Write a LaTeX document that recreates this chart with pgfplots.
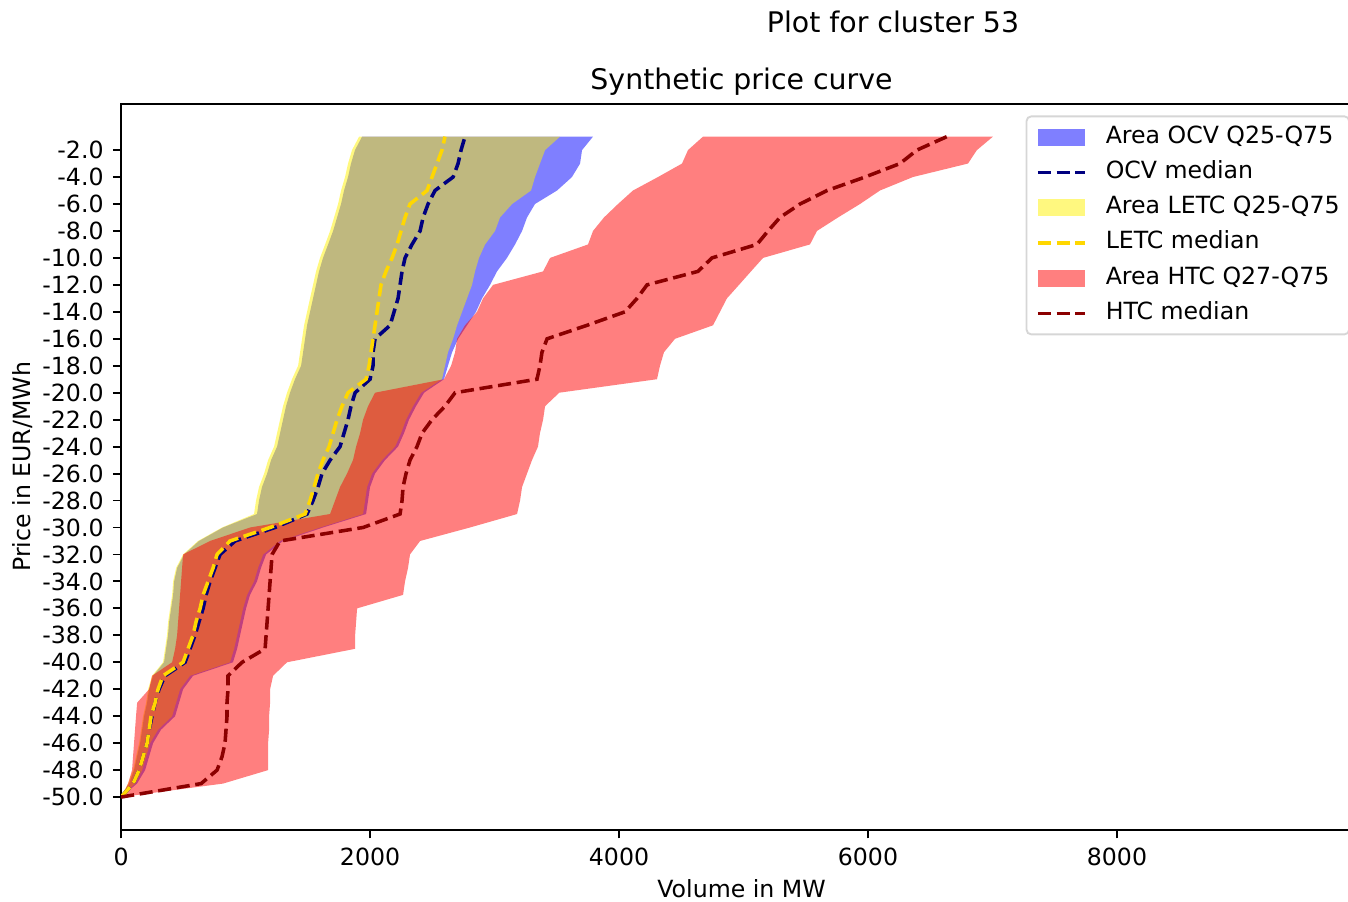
\documentclass[border=0pt]{standalone}
\usepackage{fontspec}
\setmainfont{DejaVu Sans}
\usepackage{pgfplots}
\pgfplotsset{compat=1.18}
\usepackage{pgfplotstable}
\usepgfplotslibrary{fillbetween}
\definecolor{navyc}{HTML}{000080}
\definecolor{goldc}{HTML}{FFD700}
\definecolor{darkredc}{HTML}{8B0000}

\pgfplotstableread{
y lo hi med
-50 0 0 0
-49 64 128 96
-48 104 193 145
-47 128 225 177
-46 153 257 209
-45 169 321 225
-44 185 434 249
-43 209 466 273
-42 225 498 305
-41 257 578 353
-40 345 899 514
-39 361 932 554
-38 377 956 594
-37 386 980 626
-36 402 1004 659
-35 418 1036 683
-34 426 1092 715
-33 450 1124 755
-32 506 1165 795
-31 626 1301 916
-30 819 1622 1237
-29 1092 1968 1494
-28 1108 1984 1542
-27 1132 2000 1582
-26 1173 2040 1614
-25 1205 2120 1679
-24 1253 2225 1759
-23 1277 2273 1791
-22 1301 2313 1823
-21 1325 2369 1847
-20 1357 2434 1880
-19 1397 2594 2000
-18 1446 2626 2024
-17 1462 2659 2024
-16 1478 2707 2040
-15 1494 2779 2161
-14 1518 2851 2193
-13 1542 2900 2225
-12 1566 2964 2241
-11 1590 3020 2257
-10 1622 3100 2281
-9 1663 3165 2337
-8 1703 3221 2402
-7 1735 3261 2426
-6 1767 3325 2466
-5 1791 3502 2522
-4 1823 3622 2667
-3 1847 3687 2707
-2 1879 3703 2731
-1 1936 3791 2763
}\ocv

\pgfplotstableread{
y lo hi med
-50 0 0 0
-49 56 112 96
-48 96 169 145
-47 120 201 177
-46 145 233 209
-45 161 297 225
-44 177 410 241
-43 201 442 273
-42 217 474 297
-41 249 554 337
-40 337 875 498
-39 353 908 538
-38 369 932 578
-37 378 956 602
-36 394 980 635
-35 410 1012 659
-34 418 1068 699
-33 442 1100 739
-32 498 1141 771
-31 618 1277 875
-30 811 1598 1197
-29 1068 1944 1478
-28 1084 1960 1518
-27 1108 1976 1550
-26 1149 2016 1582
-25 1181 2096 1622
-24 1229 2201 1671
-23 1253 2249 1703
-22 1277 2289 1735
-21 1301 2345 1775
-20 1333 2410 1823
-19 1373 2578 1968
-18 1422 2602 1992
-17 1438 2626 2008
-16 1454 2667 2024
-15 1470 2699 2040
-14 1494 2739 2056
-13 1518 2779 2072
-12 1542 2819 2088
-11 1566 2843 2128
-10 1598 2875 2177
-9 1639 2924 2217
-8 1679 3004 2249
-7 1711 3044 2281
-6 1743 3141 2321
-5 1767 3293 2458
-4 1799 3325 2498
-3 1823 3365 2538
-2 1855 3406 2578
-1 1912 3526 2602
}\letc

\pgfplotstableread{
y lo hi med
-50 0 0 0
-49 56 819 643
-48 88 1181 771
-47 96 1181 811
-46 104 1181 835
-45 112 1189 843
-44 120 1189 851
-43 129 1197 851
-42 225 1197 859
-41 249 1221 859
-40 410 1333 972
-39 434 1880 1157
-38 450 1880 1165
-37 458 1888 1173
-36 466 1896 1181
-35 474 2265 1189
-34 482 2281 1197
-33 490 2305 1205
-32 498 2321 1213
-31 715 2402 1277
-30 1036 2803 1944
-29 1679 3181 2241
-28 1719 3205 2257
-27 1759 3221 2265
-26 1815 3261 2289
-25 1863 3301 2321
-24 1888 3349 2377
-23 1920 3365 2418
-22 1944 3390 2498
-21 1984 3406 2602
-20 2040 3520 2683
-19 2594 4305 3341
-18 2651 4329 3365
-17 2683 4361 3381
-16 2699 4450 3422
-15 2763 4755 3743
-14 2859 4811 4048
-13 2908 4867 4145
-12 2988 4964 4225
-11 3390 5060 4634
-10 3446 5157 4747
-9 3751 5534 5108
-8 3791 5590 5197
-7 3879 5759 5293
-6 3992 5936 5454
-5 4112 6096 5671
-4 4313 6361 5976
-3 4506 6803 6257
-2 4554 6875 6393
-1 4675 7004 6634
}\htc

\begin{document}
\begin{tikzpicture}
\begin{axis}[
  scale only axis, width=524.7pt, height=307.2pt,
  xmin=0, xmax=9968, ymin=-52.45, ymax=1.45,
  axis line style={line width=0.8pt, black},
  every tick/.style={line width=0.8pt, black},
  tick align=outside, major tick length=3.5pt,
  xtick pos=bottom, ytick pos=left,
  xtick={0,2000,4000,6000,8000},
  xticklabels={0,2000,4000,6000,8000},
  ytick={-50,-48,-46,-44,-42,-40,-38,-36,-34,-32,-30,-28,-26,-24,-22,-20,-18,-16,-14,-12,-10,-8,-6,-4,-2},
  yticklabels={-50.0,-48.0,-46.0,-44.0,-42.0,-40.0,-38.0,-36.0,-34.0,-32.0,-30.0,-28.0,-26.0,-24.0,-22.0,-20.0,-18.0,-16.0,-14.0,-12.0,-10.0,-8.0,-6.0,-4.0,-2.0},
  tick label style={font=\fontsize{10}{12}\selectfont, inner sep=0pt},
  xticklabel style={anchor=north, yshift=-3.8pt},
  yticklabel style={anchor=east, xshift=-3.7pt},
  legend style={
    at={(1,1)}, anchor=north east, xshift=-5pt, yshift=-5pt,
    draw=black!16, line width=0.8pt, rounded corners=2pt,
    fill=white, fill opacity=0.8, text opacity=1, draw opacity=1,
    inner xsep=4pt, inner ysep=4pt,
    font=\fontsize{10}{12}\selectfont,
    row sep=5.2pt,
    nodes={inner sep=0pt, text height=7.3pt, text depth=2.4pt},
    /tikz/every odd column/.append style={column sep=8pt},
  },
  legend cell align=left,
]
\addplot[draw=none, forget plot, name path=ocvlo] table[x=lo, y=y]{\ocv};
\addplot[draw=none, forget plot, name path=ocvhi] table[x=hi, y=y]{\ocv};
\addplot[draw=none, forget plot, name path=letclo] table[x=lo, y=y]{\letc};
\addplot[draw=none, forget plot, name path=letchi] table[x=hi, y=y]{\letc};
\addplot[draw=none, forget plot, name path=htclo] table[x=lo, y=y]{\htc};
\addplot[draw=none, forget plot, name path=htchi] table[x=hi, y=y]{\htc};
\addplot[fill=blue, fill opacity=0.5, draw=none, forget plot] fill between[of=ocvlo and ocvhi];
\addplot[fill=yellow, fill opacity=0.5, draw=none, forget plot] fill between[of=letclo and letchi];
\addplot[fill=red, fill opacity=0.5, draw=none, forget plot] fill between[of=htclo and htchi];
\addplot[navyc, line width=1.5pt, dash pattern=on 5.55pt off 2.4pt, forget plot] table[x=med, y=y]{\ocv};
\addplot[goldc, line width=1.5pt, dash pattern=on 5.55pt off 2.4pt, forget plot] table[x=med, y=y]{\letc};
\addplot[darkredc, line width=1.5pt, dash pattern=on 5.55pt off 2.4pt, forget plot] table[x=med, y=y]{\htc};

\addlegendimage{legend image code/.code={\path[draw=none, sharp corners, fill=blue, fill opacity=0.5] (0pt,-3.5pt) rectangle (20pt,3.5pt);}}
\addlegendentry{Area OCV Q25-Q75}
\addlegendimage{legend image code/.code={\draw[navyc, sharp corners, line width=1.5pt, dash pattern=on 5.55pt off 2.4pt] (0pt,0pt) -- (20pt,0pt);}}
\addlegendentry{OCV median}
\addlegendimage{legend image code/.code={\path[draw=none, sharp corners, fill=yellow, fill opacity=0.5] (0pt,-3.5pt) rectangle (20pt,3.5pt);}}
\addlegendentry{Area LETC Q25-Q75}
\addlegendimage{legend image code/.code={\draw[goldc, sharp corners, line width=1.5pt, dash pattern=on 5.55pt off 2.4pt] (0pt,0pt) -- (20pt,0pt);}}
\addlegendentry{LETC median}
\addlegendimage{legend image code/.code={\path[draw=none, sharp corners, fill=red, fill opacity=0.5] (0pt,-3.5pt) rectangle (20pt,3.5pt);}}
\addlegendentry{Area HTC Q27-Q75}
\addlegendimage{legend image code/.code={\draw[darkredc, sharp corners, line width=1.5pt, dash pattern=on 5.55pt off 2.4pt] (0pt,0pt) -- (20pt,0pt);}}
\addlegendentry{HTC median}

\coordinate (sw) at (rel axis cs:0,0);
\coordinate (ne) at (rel axis cs:1,1);
\end{axis}
\node[anchor=base, font=\fontsize{12}{14.4}\selectfont] at ([xshift=326.4pt, yshift=337.4pt]sw) {Plot for cluster 53};
\node[anchor=base, font=\fontsize{12}{14.4}\selectfont] at ([xshift=262.35pt, yshift=313.2pt]sw) {Synthetic price curve};
\node[anchor=base, font=\fontsize{10}{12}\selectfont] at ([xshift=262.35pt, yshift=-28.5pt]sw) {Volume in MW};
\node[anchor=base, rotate=90, font=\fontsize{10}{12}\selectfont] at ([xshift=-38.5pt, yshift=153.6pt]sw) {Price in EUR/MWh};
\pgfresetboundingbox
\path[use as bounding box] ([xshift=-51.2pt, yshift=-30pt]sw) rectangle ([xshift=-5.9pt, yshift=43.8pt]ne);
\end{tikzpicture}
\end{document}
